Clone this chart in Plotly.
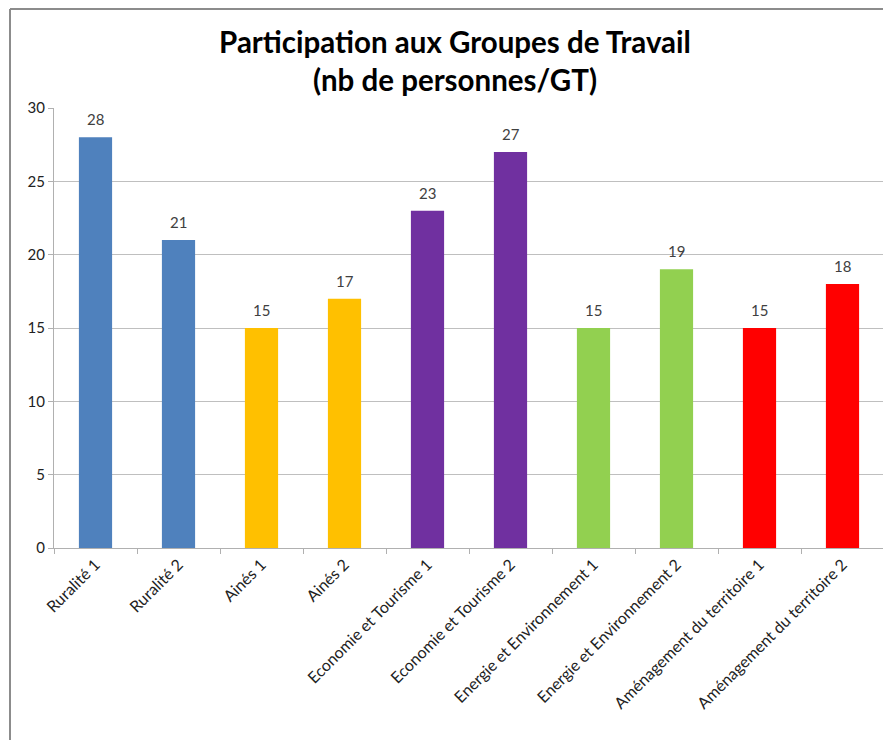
import plotly.graph_objects as go

categories = ["Ruralité 1", "Ruralité 2", "Ainés 1", "Ainés 2",
              "Economie et Tourisme 1", "Economie et Tourisme 2",
              "Energie et Environnement 1", "Energie et Environnement 2",
              "Aménagement du territoire 1", "Aménagement du territoire 2"]
values = [28, 21, 15, 17, 23, 27, 15, 19, 15, 18]
colors = ["#4F81BD", "#4F81BD", "#FFC000", "#FFC000", "#7030A0", "#7030A0",
          "#92D050", "#92D050", "#FF0000", "#FF0000"]

FONT = "Lato, Open Sans, sans-serif"

fig = go.Figure(go.Bar(
    x=categories, y=values, marker=dict(color=colors, line=dict(width=0)),
    width=0.4,
))

for c, v in zip(categories, values):
    fig.add_annotation(x=c, y=v, text=str(v), showarrow=False, yanchor="bottom",
                       yshift=7, font=dict(size=15, color="#404040", family=FONT))

W, H = 891, 740
OFF = 8  # page body offset
L, R, T, B = 54 - OFF, W - (884 - OFF), 108 - OFF, H - (548 - OFF)
pw, ph = W - L - R, H - T - B

def px(x):
    return (x - OFF - L) / pw

def py(y):
    return (H - B - (y - OFF)) / ph

fig.update_layout(
    width=W, height=H,
    margin=dict(l=L, r=R, t=T, b=B, autoexpand=False),
    paper_bgcolor="white", plot_bgcolor="white",
    showlegend=False,
    title=dict(text="<b>Participation aux Groupes de Travail<br>(nb de personnes/GT)</b>",
               x=(455 - OFF) / W, xanchor="center", y=1 - 45 / H, yanchor="middle",
               font=dict(size=29.5, family=FONT, color="black")),
    xaxis=dict(tickangle=-45, tickfont=dict(size=16, family=FONT, color="#222222"),
               showline=True, linecolor="#b0b0b0", linewidth=1,
               ticks="outside", tickson="boundaries", ticklen=5, tickcolor="#b0b0b0",
               showgrid=False),
    yaxis=dict(range=[0, 30], dtick=5, tickfont=dict(size=15, family=FONT, color="#222222"),
               showgrid=True, gridcolor="#bfbfbf", gridwidth=1,
               showline=True, linecolor="#b0b0b0", linewidth=1,
               ticks="outside", ticklen=5, tickcolor="#b0b0b0", zeroline=False),
    shapes=[
        dict(type="rect", xref="paper", yref="paper", x0=px(0), x1=px(W + 20), y0=py(0), y1=py(8),
             fillcolor="#e6e6e6", line=dict(width=0), layer="below"),
        dict(type="line", xref="paper", yref="paper", x0=px(10), x1=px(W + 20), y0=py(9), y1=py(9),
             line=dict(color="#8c8c8c", width=2)),
        dict(type="line", xref="paper", yref="paper", x0=px(10), x1=px(10), y0=py(9), y1=py(H + 20),
             line=dict(color="#8c8c8c", width=2)),
    ],
)

fig.write_html("out.html")
